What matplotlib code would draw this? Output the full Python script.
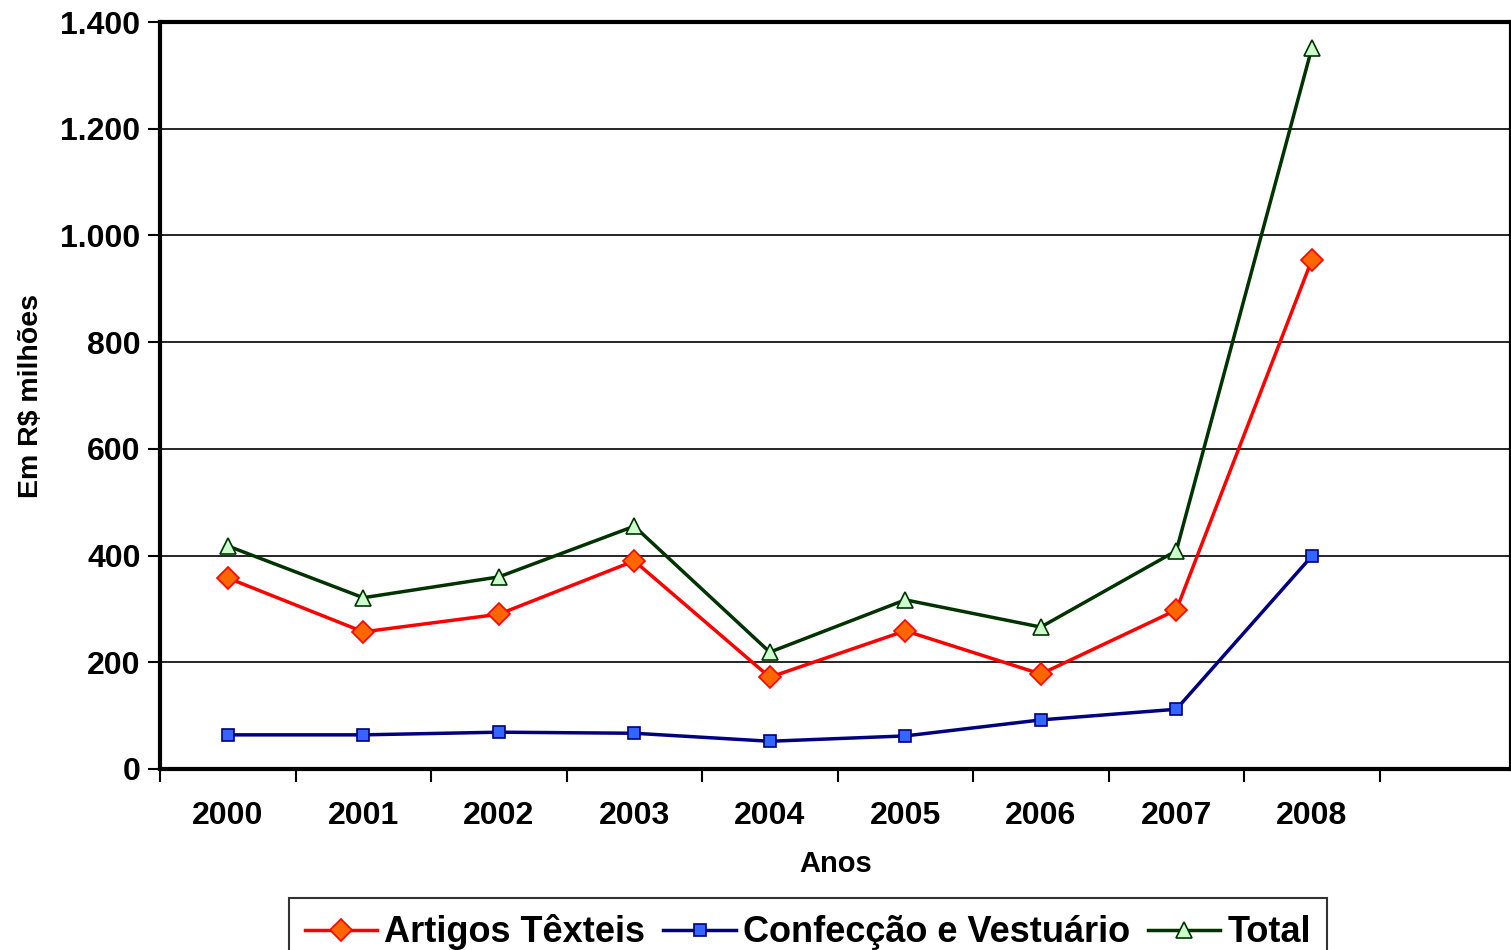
import numpy as np
import matplotlib.pyplot as plt
from matplotlib.ticker import FuncFormatter

plt.rcParams['font.family'] = ['Liberation Sans', 'DejaVu Sans']
plt.rcParams['font.weight'] = 'bold'

# data
anos = ['2000', '2001', '2002', '2003', '2004', '2005', '2006', '2007', '2008']
artigos = [358, 257, 290, 390, 172, 259, 178, 298, 954]
confeccao = [64, 64, 69, 67, 52, 62, 92, 112, 399]
total = [418, 321, 360, 455, 219, 317, 266, 409, 1351]

x = np.arange(len(anos))

fig = plt.figure(figsize=(15.11, 9.5), dpi=100)
ax = fig.add_axes([160 / 1511, 1 - 769 / 950, (1511 - 160) / 1511, (769 - 22) / 950])

ax.plot(x, artigos, color='#ff0000', lw=2.5, marker='D', ms=11,
        mfc='#ff6600', mec='#ff0000', mew=1.2, label='Artigos Têxteis', zorder=3)
ax.plot(x, confeccao, color='#000080', lw=2.5, marker='s', ms=9,
        mfc='#3366ff', mec='#000080', mew=1.2, label='Confecção e Vestuário', zorder=3)
ax.plot(x, total, color='#003300', lw=2.5, marker='^', ms=11,
        mfc='#ccffcc', mec='#003300', mew=1.2, label='Total', zorder=3)

ax.set_xlim(-0.5, 9.47)
ax.set_ylim(0, 1400)
ax.set_yticks(np.arange(0, 1401, 200))
ax.yaxis.set_major_formatter(FuncFormatter(lambda v, p: f'{int(v):,}'.replace(',', '.')))
ax.grid(axis='y', color='black', lw=1.2)
ax.set_axisbelow(True)

ax.set_xticks(x)
ax.set_xticklabels(anos)
ax.set_xticks(np.arange(-0.5, 9.5, 1), minor=True)
ax.tick_params(axis='x', which='major', length=0, pad=23, labelsize=23)
ax.tick_params(axis='x', which='minor', length=9, width=1.5, direction='out')
ax.tick_params(axis='y', length=9, width=1.5, direction='out', labelsize=23, pad=5)
for lab in ax.get_xticklabels() + ax.get_yticklabels():
    lab.set_fontweight('bold')

for s in ax.spines.values():
    s.set_linewidth(3)

ax.set_xlabel('Anos', fontsize=21, fontweight='bold', labelpad=14)
ax.set_ylabel('Em R$ milhões', fontsize=20.5, fontweight='bold', labelpad=12)

leg = fig.legend(loc='upper center', bbox_to_anchor=(808 / 1511, 1 - 898 / 950), ncol=3,
                 fontsize=26, frameon=True, fancybox=False, edgecolor='black',
                 handlelength=2, handletextpad=0.2, columnspacing=0.5,
                 borderpad=0.45, borderaxespad=0)
leg.get_frame().set_linewidth(1.5)
for t in leg.get_texts():
    t.set_fontweight('bold')

fig.savefig('out.png', dpi=100)
